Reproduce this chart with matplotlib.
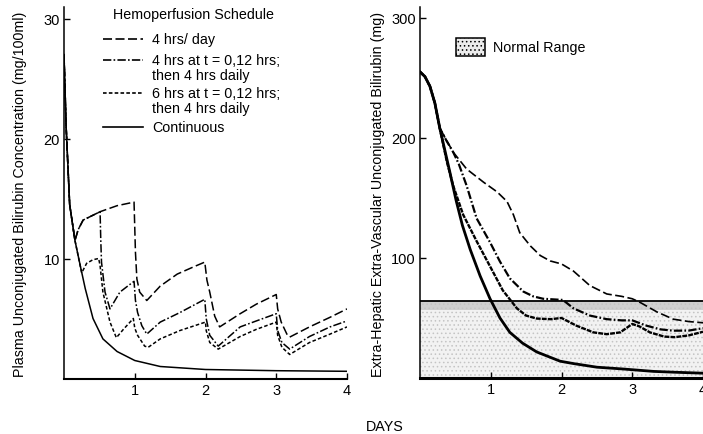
import matplotlib
matplotlib.use("Agg")
import matplotlib.pyplot as plt
from matplotlib.lines import Line2D
from matplotlib.patches import Rectangle

plt.rcParams['font.family'] = ['Liberation Sans', 'DejaVu Sans']
plt.rcParams['lines.scale_dashes'] = False
plt.rcParams['hatch.linewidth'] = 0.6

# ---------------- data: plasma concentration (mg/100ml) ----------------
t_A_plasma = [0, 0.03, 0.08, 0.155, 0.2, 0.27, 0.51, 0.75, 0.99, 1.01, 1.03, 1.07, 1.17,
              1.36, 1.6, 1.83, 1.99, 2.02, 2.06, 2.13, 2.2, 2.49, 2.72, 3.0, 3.02, 3.07,
              3.15, 3.19, 3.47, 3.76, 4.0]
v_A_plasma = [27, 21, 14.5, 11.5, 12.4, 13.2, 13.9, 14.4, 14.7, 10.5, 8.3, 7.2, 6.5,
              7.7, 8.7, 9.3, 9.7, 8.2, 7.2, 5.2, 4.3, 5.4, 6.2, 7.0, 5.8, 4.7,
              3.7, 3.45, 4.3, 5.1, 5.8]

t_B_plasma = [0, 0.03, 0.08, 0.155, 0.2, 0.27, 0.51, 0.52, 0.53, 0.58, 0.65, 0.79, 0.9,
              0.99, 1.01, 1.04, 1.1, 1.17, 1.36, 1.64, 1.99, 2.01, 2.06, 2.18, 2.49, 2.72,
              3.0, 3.02, 3.08, 3.19, 3.47, 3.76, 4.0]
v_B_plasma = [27, 21, 14.5, 11.5, 12.4, 13.2, 13.9, 11.5, 9.7, 7.2, 5.8, 7.2, 7.7,
              8.1, 6.5, 5.5, 4.4, 3.7, 4.7, 5.5, 6.6, 5.0, 3.6, 2.7, 4.3, 4.8,
              5.4, 4.0, 3.0, 2.45, 3.5, 4.3, 4.8]

t_C_plasma = [0, 0.03, 0.08, 0.155, 0.25, 0.32, 0.41, 0.49, 0.51, 0.53, 0.55, 0.65, 0.74,
              0.84, 0.98, 1.0, 1.04, 1.14, 1.19, 1.36, 1.64, 2.0, 2.01, 2.06, 2.18, 2.49,
              2.72, 3.0, 3.02, 3.08, 3.19, 3.47, 3.76, 4.0]
v_C_plasma = [27, 21, 14.5, 11.5, 8.8, 9.6, 9.9, 10.0, 9.4, 8.3, 7.2, 4.7, 3.4,
              4.1, 5.0, 4.2, 3.6, 2.7, 2.6, 3.3, 4.0, 4.7, 4.0, 3.0, 2.45, 3.5,
              4.1, 4.7, 3.6, 2.6, 2.0, 3.0, 3.7, 4.3]

t_D_plasma = [0, 0.03, 0.08, 0.155, 0.23, 0.3, 0.41, 0.55, 0.75, 1.0, 1.36, 2.0, 3.0, 4.0]
v_D_plasma = [27, 21, 14.5, 11.5, 9.4, 7.5, 5.0, 3.3, 2.25, 1.5, 1.0, 0.75, 0.65, 0.6]

# ---------------- data: extra-vascular bilirubin (mg) ----------------
t_A_ev = [0, 0.07, 0.14, 0.21, 0.28, 0.47, 0.66, 0.9, 1.09, 1.23, 1.32, 1.41, 1.56, 1.7,
          1.84, 2.0, 2.17, 2.4, 2.64, 2.85, 3.0, 3.11, 3.35, 3.58, 3.8, 4.0]
v_A_ev = [255, 251, 243, 229, 208, 188, 174, 163, 155, 147, 136, 121, 110, 102,
          97.5, 95, 89, 77, 70, 68, 66, 63, 55, 49, 47, 46]

t_B_ev = [0, 0.07, 0.14, 0.21, 0.28, 0.38, 0.47, 0.55, 0.66, 0.8, 0.99, 1.13, 1.27, 1.46,
          1.6, 1.74, 2.02, 2.17, 2.4, 2.64, 2.85, 3.0, 3.2, 3.4, 3.58, 3.8, 4.0]
v_B_ev = [255, 251, 243, 229, 208, 197, 188, 178, 160, 133, 113, 97, 83, 72,
          68, 66, 65, 58, 52, 49, 48, 48, 43.6, 40.5, 39.4, 39.5, 41.5]

t_C_ev = [0, 0.07, 0.14, 0.21, 0.28, 0.38, 0.47, 0.61, 0.8, 0.99, 1.17, 1.37, 1.5, 1.65,
          1.85, 2.0, 2.21, 2.45, 2.64, 2.83, 3.0, 3.1, 3.25, 3.45, 3.6, 3.8, 4.0]
v_C_ev = [255, 251, 243, 229, 208, 180, 160, 136, 114, 93, 73, 58, 52, 49.5,
          49, 50, 43.6, 38, 36.5, 38, 45, 43, 38, 34.5, 34, 35.5, 38.5]

t_D_ev = [0, 0.07, 0.14, 0.21, 0.28, 0.35, 0.42, 0.51, 0.6, 0.71, 0.85, 0.99, 1.13, 1.27,
          1.45, 1.65, 1.98, 2.17, 2.5, 2.87, 3.3, 3.6, 4.0]
v_D_ev = [255, 251, 243, 229, 208, 190, 172, 148, 127, 107, 85, 66, 50, 38,
          29, 21.7, 14, 12, 9, 7.5, 5.5, 4.8, 4]

normal_range = (0, 64)

x_ticks = [1, 2, 3, 4]
y_ticks_plasma = [10, 20, 30]
y_ticks_ev = [100, 200, 300]

legend_title = "Hemoperfusion Schedule"
legend_labels = ["4 hrs/ day",
                 "4 hrs at t = 0,12 hrs;\nthen 4 hrs daily",
                 "6 hrs at t = 0,12 hrs;\nthen 4 hrs daily",
                 "Continuous"]

# ---------------- styles ----------------
LONG = (0, (6.5, 2.5))
DASHDOT = (0, (6, 1.6, 1.2, 1.6))
SHORT = (0, (2.6, 1.6))
W, H = 703, 435
FS = 10.3


def fx(px):
    return px / W


def fy(py):
    return 1 - py / H


fig = plt.figure(figsize=(W / 100, H / 100), dpi=100)

ax1 = fig.add_axes([fx(64), fy(379.5), 283 / W, 372 / H])
ax2 = fig.add_axes([fx(420), fy(379), 283 / W, 371 / H])

for ax in (ax1, ax2):
    ax.spines['top'].set_visible(False)
    ax.spines['right'].set_visible(False)
    ax.spines['left'].set_linewidth(1.1)
    ax.spines['bottom'].set_linewidth(1.5)
    ax.set_xlim(0, 4)
    ax.set_xticks(x_ticks)
    ax.set_xticklabels([str(v) for v in x_ticks])
    ax.tick_params(direction='in', length=4, width=1, labelsize=10.5, pad=3)
    ax.patch.set_alpha(0)

ax1.set_ylim(0, 31)
ax1.set_yticks(y_ticks_plasma)
ax1.set_yticklabels([str(v) for v in y_ticks_plasma])
ax2.set_ylim(0, 309)
ax2.set_yticks(y_ticks_ev)
ax2.set_yticklabels([str(v) for v in y_ticks_ev])
ax2.spines['bottom'].set_linewidth(2.2)

# left panel
ax1.plot(t_A_plasma, v_A_plasma, color='black', lw=1.1, ls=LONG)
ax1.plot(t_B_plasma, v_B_plasma, color='black', lw=1.1, ls=DASHDOT)
ax1.plot(t_C_plasma, v_C_plasma, color='black', lw=1.1, ls=SHORT)
ax1.plot(t_D_plasma, v_D_plasma, color='black', lw=1.1, ls='-')

# right panel: normal range (stippled, darker just under the upper limit)
lo, hi = normal_range
ax2.fill_between([0, 4], lo, hi, facecolor='#f2f2f2', edgecolor='none', lw=0, zorder=0)
ax2.fill_between([0, 4], hi - 0.12 * (hi - lo), hi, facecolor='#d0d0d0',
                 edgecolor='none', lw=0, zorder=0)
ax2.fill_between([0, 4], lo, hi, facecolor='none', edgecolor='#c4c4c4',
                 hatch='....', lw=0, zorder=0)
ax2.plot([0, 4], [hi, hi], color='black', lw=1.3, zorder=1)

ax2.plot(t_A_ev, v_A_ev, color='black', lw=1.2, ls=LONG)
ax2.plot(t_B_ev, v_B_ev, color='black', lw=1.6, ls=DASHDOT)
ax2.plot(t_C_ev, v_C_ev, color='black', lw=1.7, ls=(0, (3.5, 0.8)))
ax2.plot(t_D_ev, v_D_ev, color='black', lw=2.0, ls='-')

# axis labels
fig.text(fx(20), fy(194), "Plasma Unconjugated Bilirubin Concentration (mg/100ml)",
         rotation=90, ha='center', va='center', fontsize=FS)
fig.text(fx(378), fy(194), "Extra-Hepatic Extra-Vascular Unconjugated Bilirubin (mg)",
         rotation=90, ha='center', va='center', fontsize=FS)
fig.text(fx(385), fy(427), "DAYS", ha='center', va='center', fontsize=FS)

# left legend (manual)
fig.text(fx(113), fy(15), legend_title, ha='left', va='center', fontsize=FS)
legend_rows = [(40, LONG), (61, DASHDOT), (94, SHORT), (128, '-')]
for (ly, ls), lab in zip(legend_rows, legend_labels):
    fig.add_artist(Line2D([fx(103), fx(143)], [fy(ly), fy(ly)], color='black',
                          lw=1.2, ls=ls, transform=fig.transFigure))
    fig.text(fx(152), fy(ly - 7), lab, ha='left', va='top', fontsize=FS,
             linespacing=1.05)

# right legend: normal range box
rect = Rectangle((fx(456), fy(57)), 29 / W, 18 / H, transform=fig.transFigure,
                 facecolor='#ececec', edgecolor='black', lw=1.1, hatch='....')
fig.add_artist(rect)
fig.text(fx(493), fy(48), "Normal Range", ha='left', va='center', fontsize=FS)

fig.savefig("out.png", dpi=100)
